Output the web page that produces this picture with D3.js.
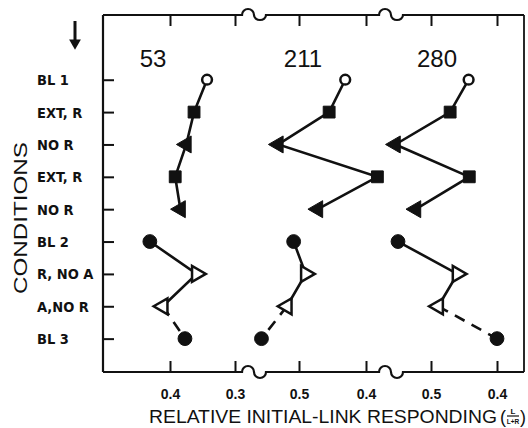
<!DOCTYPE html>
<html>
<head>
<meta charset="utf-8">
<script src="https://cdn.jsdelivr.net/npm/d3@7"></script>
<style>
  html, body { margin: 0; padding: 0; background: #fff; }
  svg { display: block; }
</style>
</head>
<body>
<svg id="chart" width="528" height="428"></svg>
<script>
// ---- data ----
const conditions = ["BL 1", "EXT, R", "NO R", "EXT, R", "NO R", "BL 2", "R, NO A", "A,NO R", "BL 3"];
const subjects = ["53", "211", "280"];
const values53  = [0.343, 0.363, 0.375, 0.392, 0.384, 0.431, 0.359, 0.411, 0.377];
const values211 = [0.431, 0.455, 0.531, 0.383, 0.472, 0.508, 0.490, 0.518, 0.556];
const values280 = [0.443, 0.471, 0.554, 0.442, 0.523, 0.550, 0.460, 0.489, 0.400];
const ticks53  = [0.4, 0.3];
const ticks211 = [0.5, 0.4];
const ticks280 = [0.5, 0.4];
const markerKinds = ["openCircle", "square", "triLeft", "square", "triLeft", "circle", "openTriRight", "openTriLeft", "circle"];

// ---- layout ----
const svg = d3.select("#chart");
const L = 103, R = 524, T = 15, B = 372;
const ink = "#111";
const y = d3.scaleLinear().domain([-2, 9]).range([T, 371]);

const panels = [
  { name: subjects[0], values: values53,  ticks: ticks53,  x: d3.scaleLinear().domain([0.4, 0.3]).range([170, 235]), labelX: 153 },
  { name: subjects[1], values: values211, ticks: ticks211, x: d3.scaleLinear().domain([0.5, 0.4]).range([299, 366]), labelX: 303 },
  { name: subjects[2], values: values280, ticks: ticks280, x: d3.scaleLinear().domain([0.5, 0.4]).range([431, 497]), labelX: 437 }
];
const breaks = [254, 391];

// frame lines with break squiggles
function brokenLine(yy, dipR) {
  let p = `M${L},${yy}`;
  breaks.forEach(b => {
    p += ` L${b - 12},${yy} A6,6 0 0,1 ${b},${yy} A6,${dipR} 0 0,0 ${b + 12},${yy}`;
  });
  p += ` L${R},${yy}`;
  return p;
}
svg.append("path").attr("d", brokenLine(T, 5)).attr("fill", "none").attr("stroke", ink).attr("stroke-width", 2.2);
svg.append("path").attr("d", brokenLine(B, 6)).attr("fill", "none").attr("stroke", ink).attr("stroke-width", 2.2);
svg.append("line").attr("x1", L).attr("x2", L).attr("y1", T).attr("y2", B).attr("stroke", ink).attr("stroke-width", 2.2);
svg.append("line").attr("x1", R).attr("x2", R).attr("y1", T).attr("y2", B).attr("stroke", ink).attr("stroke-width", 1.8);

// y axis ticks (inward)
const yAxis = d3.axisRight(y).tickValues(d3.range(conditions.length)).tickSize(11).tickFormat("");
const gy = svg.append("g").attr("transform", `translate(${L},0)`).call(yAxis);
gy.select(".domain").remove();
gy.selectAll(".tick line").attr("stroke", ink).attr("stroke-width", 2);

// condition labels
svg.append("g").selectAll("text").data(conditions).join("text")
  .attr("x", 37).attr("y", (d, i) => y(i) + 5.5)
  .attr("font-family", "'DejaVu Sans Condensed', 'Liberation Sans Narrow', 'Liberation Sans', sans-serif")
  .attr("font-weight", "bold").attr("font-size", 14.5).attr("fill", ink)
  .text(d => d);

// x axes per panel
panels.forEach(p => {
  const gb = svg.append("g").attr("transform", `translate(0,${B})`)
    .call(d3.axisBottom(p.x).tickValues(p.ticks).tickSize(-11).tickPadding(17).tickFormat(d3.format(".1f")));
  gb.select(".domain").remove();
  gb.selectAll(".tick line").attr("stroke", ink).attr("stroke-width", 2);
  gb.selectAll(".tick text").attr("font-family", "'Liberation Sans', Arial, sans-serif")
    .attr("font-weight", "bold").attr("font-size", 14).attr("fill", ink);
  const gt = svg.append("g").attr("transform", `translate(0,${T})`)
    .call(d3.axisTop(p.x).tickValues(p.ticks).tickSize(-11).tickFormat(""));
  gt.select(".domain").remove();
  gt.selectAll(".tick line").attr("stroke", ink).attr("stroke-width", 2);
  svg.append("text").attr("x", p.labelX).attr("y", 67).attr("text-anchor", "middle")
    .attr("font-family", "'Liberation Sans', Arial, sans-serif").attr("font-size", 24).attr("fill", ink)
    .text(p.name);
});

// data lines and markers
const line = d3.line().x(d => d.x).y(d => d.y);
panels.forEach(p => {
  const pts = p.values.map((v, i) => ({ x: p.x(v), y: y(i), kind: markerKinds[i] }));
  const g = svg.append("g");
  g.append("path").attr("d", line(pts.slice(0, 5))).attr("fill", "none").attr("stroke", ink).attr("stroke-width", 2.6);
  g.append("path").attr("d", line(pts.slice(5, 8))).attr("fill", "none").attr("stroke", ink).attr("stroke-width", 2.6);
  g.append("path").attr("d", line(pts.slice(7, 9))).attr("fill", "none").attr("stroke", ink).attr("stroke-width", 2.6)
    .attr("stroke-dasharray", "11,8");
  pts.forEach(pt => {
    let type, size, rot = 0, filled = true;
    switch (pt.kind) {
      case "openCircle": type = d3.symbolCircle; size = 75; filled = false; break;
      case "circle": type = d3.symbolCircle; size = 150; break;
      case "square": type = d3.symbolSquare; size = 140; break;
      case "triLeft": type = d3.symbolTriangle; size = 125; rot = -90; break;
      case "openTriRight": type = d3.symbolTriangle; size = 110; rot = 90; filled = false; break;
      case "openTriLeft": type = d3.symbolTriangle; size = 110; rot = -90; filled = false; break;
    }
    g.append("path").attr("d", d3.symbol().type(type).size(size)())
      .attr("transform", `translate(${pt.x},${pt.y}) rotate(${rot})`)
      .attr("fill", filled ? ink : "#fff").attr("stroke", ink).attr("stroke-width", filled ? 1 : 2.5);
  });
});

// y title
svg.append("text").attr("transform", "translate(27,218) rotate(-90)").attr("text-anchor", "middle")
  .attr("font-family", "'Liberation Sans', Arial, sans-serif").attr("font-size", 19).attr("fill", ink)
  .attr("textLength", 152).attr("lengthAdjust", "spacingAndGlyphs")
  .text("CONDITIONS");

// x title
svg.append("text").attr("x", 149).attr("y", 423)
  .attr("font-family", "'Liberation Sans', Arial, sans-serif").attr("font-size", 19).attr("fill", ink)
  .attr("textLength", 348).attr("lengthAdjust", "spacingAndGlyphs")
  .text("RELATIVE INITIAL-LINK RESPONDING");
const fg = svg.append("g").attr("font-family", "'Liberation Sans', Arial, sans-serif").attr("fill", ink);
fg.append("text").attr("x", 500).attr("y", 423).attr("font-size", 18).text("(");
fg.append("text").attr("x", 513).attr("y", 414).attr("font-size", 8).attr("font-weight", "bold").attr("text-anchor", "middle").text("L");
fg.append("line").attr("x1", 507).attr("x2", 519).attr("y1", 416).attr("y2", 416).attr("stroke", ink).attr("stroke-width", 1.2);
fg.append("text").attr("x", 513).attr("y", 424).attr("font-size", 6.5).attr("font-weight", "bold").attr("text-anchor", "middle").text("L+R");
fg.append("text").attr("x", 520).attr("y", 423).attr("font-size", 18).text(")");

// arrow
svg.append("line").attr("x1", 75).attr("x2", 75).attr("y1", 21).attr("y2", 40).attr("stroke", ink).attr("stroke-width", 3);
svg.append("path").attr("d", d3.symbol().type(d3.symbolTriangle).size(60)())
  .attr("transform", "translate(75,43) rotate(180)").attr("fill", ink);
</script>
</body>
</html>
